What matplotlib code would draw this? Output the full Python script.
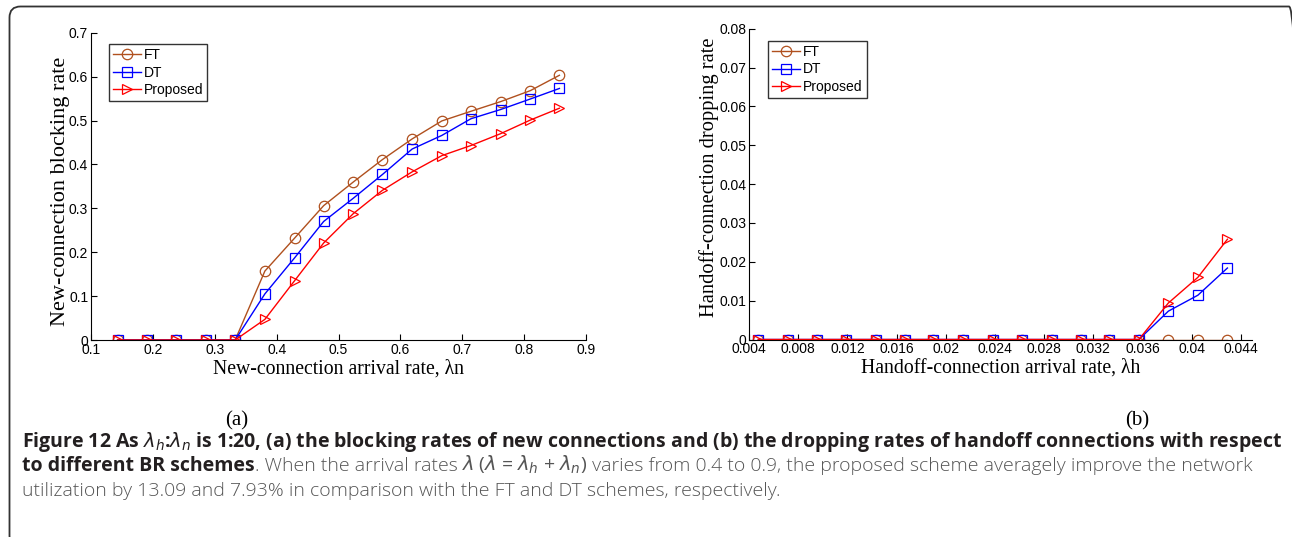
import matplotlib
matplotlib.use("Agg")
import matplotlib.pyplot as plt
from matplotlib.patches import FancyBboxPatch
from matplotlib.transforms import IdentityTransform

# ---- data ----
lam_n = [0.143, 0.190, 0.238, 0.286, 0.333, 0.381, 0.429, 0.476, 0.524, 0.571,
         0.619, 0.667, 0.714, 0.762, 0.810, 0.857]
ft_block = [0, 0, 0, 0, 0, 0.157, 0.232, 0.306, 0.360, 0.411, 0.458, 0.499, 0.521, 0.543, 0.568, 0.603]
dt_block = [0, 0, 0, 0, 0, 0.105, 0.187, 0.270, 0.323, 0.377, 0.435, 0.466, 0.504, 0.525, 0.549, 0.573]
pr_block = [0, 0, 0, 0, 0, 0.047, 0.135, 0.221, 0.288, 0.341, 0.383, 0.420, 0.443, 0.470, 0.501, 0.528]

lam_h = [0.00476, 0.00714, 0.00952, 0.0119, 0.0143, 0.0167, 0.0190, 0.0214, 0.0238,
         0.0262, 0.0286, 0.0310, 0.0333, 0.0357, 0.0381, 0.0405, 0.0429]
ft_drop = [0] * 14 + [0, 0, 0]
dt_drop = [0] * 14 + [0.0073, 0.0114, 0.0184]
pr_drop = [0] * 14 + [0.0094, 0.0160, 0.0258]

series_names = ["FT", "DT", "Proposed"]
left_xticks = [0.1, 0.2, 0.3, 0.4, 0.5, 0.6, 0.7, 0.8, 0.9]
left_yticks = [0, 0.1, 0.2, 0.3, 0.4, 0.5, 0.6, 0.7]
left_yticklabels = ["0", "0.1", "0.2", "0.3", "0.4", "0.5", "0.6", "0.7"]
right_xticks = [0.004, 0.008, 0.012, 0.016, 0.02, 0.024, 0.028, 0.032, 0.036, 0.04, 0.044]
right_xticklabels = ["0.004", "0.008", "0.012", "0.016", "0.02", "0.024", "0.028",
                     "0.032", "0.036", "0.04", "0.044"]
right_yticks = [0, 0.01, 0.02, 0.03, 0.04, 0.05, 0.06, 0.07, 0.08]
right_yticklabels = ["0", "0.01", "0.02", "0.03", "0.04", "0.05", "0.06", "0.07", "0.08"]

colors = ["#B0501E", "#0000FF", "#FF0000"]
markers = ["o", "s", ">"]

W, H = 1292, 537
fig = plt.figure(figsize=(W / 100, H / 100), dpi=100)

# border box (pixel coordinates, extends past right/bottom edges)
box = FancyBboxPatch((9.5, -10), 1300 - 9.5, (H - 6.5) + 10,
                     boxstyle="round,pad=0,rounding_size=11",
                     transform=IdentityTransform(), fill=False, edgecolor="#333333",
                     linewidth=1.3)
fig.add_artist(box)

tick_font = "Liberation Sans"
label_font = "Liberation Serif"


def style_axes(ax):
    for s in ["top", "right"]:
        ax.spines[s].set_visible(False)
    for s in ["left", "bottom"]:
        ax.spines[s].set_linewidth(0.8)
    ax.tick_params(direction="in", length=4, width=0.8, labelsize=10, pad=2)
    for lab in ax.get_xticklabels() + ax.get_yticklabels():
        lab.set_fontfamily(tick_font)


def make_legend(ax, anchor):
    leg = ax.legend(loc="upper left", bbox_to_anchor=anchor, frameon=True,
                    fancybox=False, edgecolor="black", prop={"family": tick_font, "size": 10},
                    handlelength=2.0, handletextpad=0.2, borderpad=0.3, labelspacing=0.25,
                    borderaxespad=0)
    leg.get_frame().set_linewidth(1.0)
    return leg


# ---- left axes ----
ax1 = fig.add_axes([91 / W, 1 - 340 / H, (586 - 91) / W, (340 - 32.7) / H])
for ys, c, m, n in zip([ft_block, dt_block, pr_block], colors, markers, series_names):
    ax1.plot(lam_n, ys, color=c, marker=m, markersize=7.5, markerfacecolor="none",
             markeredgecolor=c, markeredgewidth=0.9, linewidth=1.0, label=n)
ax1.set_xlim(0.1, 0.9)
ax1.set_ylim(0, 0.7)
ax1.set_xticks(left_xticks)
ax1.set_xticklabels([str(t) for t in left_xticks])
ax1.set_yticks(left_yticks)
ax1.set_yticklabels(left_yticklabels)
style_axes(ax1)
ax1.set_xlabel("New-connection arrival rate, λn", fontfamily=label_font, fontsize=14.2)
ax1.xaxis.set_label_coords(0.5, -0.062)
ax1.set_ylabel("New-connection blocking rate", fontfamily=label_font, fontsize=16)
ax1.yaxis.set_label_coords(-0.042, 0.485)
make_legend(ax1, (0.036, 0.963))

# ---- right axes ----
ax2 = fig.add_axes([749 / W, 1 - 339.5 / H, (1252 - 749) / W, (339.5 - 28.7) / H])
for ys, c, m, n in zip([ft_drop, dt_drop, pr_drop], colors, markers, series_names):
    ax2.plot(lam_h, ys, color=c, marker=m, markersize=7.5, markerfacecolor="none",
             markeredgecolor=c, markeredgewidth=0.9, linewidth=1.0, label=n)
ax2.set_xlim(0.004, 0.0449)
ax2.set_ylim(0, 0.08)
ax2.set_xticks(right_xticks)
ax2.set_xticklabels(right_xticklabels)
ax2.set_yticks(right_yticks)
ax2.set_yticklabels(right_yticklabels)
style_axes(ax2)
ax2.set_xlabel("Handoff-connection arrival rate, λh", fontfamily=label_font, fontsize=14.2)
ax2.xaxis.set_label_coords(0.5, -0.062)
ax2.set_ylabel("Handoff-connection dropping rate", fontfamily=label_font, fontsize=14.8)
ax2.yaxis.set_label_coords(-0.06, 0.521)
make_legend(ax2, (0.038, 0.961))

# ---- (a) (b) ----
fig.text(237 / W, 1 - 421 / H, "(a)", fontfamily=label_font, fontsize=15, ha="center", va="center")
fig.text(1137 / W, 1 - 421 / H, "(b)", fontfamily=label_font, fontsize=15, ha="center", va="center")

# ---- caption ----
cap_font = "Open Sans"
bold_col = "#231F20"
light_col = "#555555"
line1 = (r"Figure 12 As $\lambda_h$:$\lambda_n$ is 1:20, (a) the blocking rates of new connections "
         r"and (b) the dropping rates of handoff connections with respect")
line2_parts = [
    ("to different BR schemes", "bold", bold_col),
    (". When the arrival rates", "light", light_col),
    (r" $\lambda$ ($\lambda$ = $\lambda_h$ + $\lambda_n$)", "normal", light_col),
    (" varies from 0.4 to 0.9, the proposed scheme averagely improve the network", "light", light_col),
]
line3 = "utilization by 13.09 and 7.93% in comparison with the FT and DT schemes, respectively."

x0 = 22 / W
fs = 12
t1 = fig.text(x0, 1 - 447 / H, line1, fontfamily=cap_font, fontweight="bold",
              fontsize=fs, color=bold_col, va="baseline")
renderer = fig.canvas.get_renderer()
w1 = t1.get_window_extent(renderer).width
fs = fs * (1256 / w1)
t1.set_fontsize(fs)

xpix = 22.0
for txt, wt, col in line2_parts:
    t = fig.text(xpix / W, 1 - 471 / H, txt, fontfamily=cap_font, fontweight=wt,
                 fontsize=fs, color=col, va="baseline")
    xpix = t.get_window_extent(renderer).x1

fig.text(x0, 1 - 496 / H, line3, fontfamily=cap_font, fontsize=fs,
         fontweight="light", color=light_col, va="baseline")

fig.savefig("out.png", dpi=100)
